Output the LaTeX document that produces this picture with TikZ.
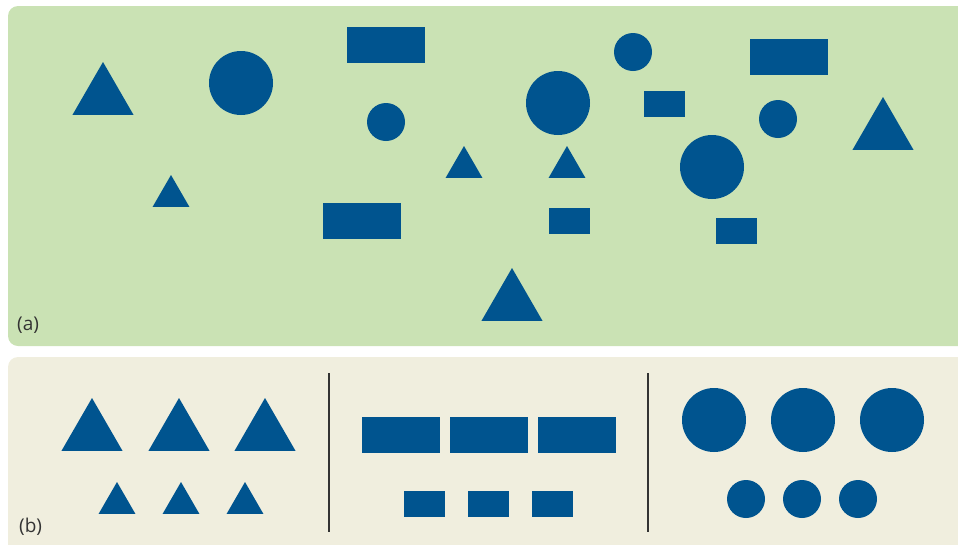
\documentclass[tikz,border=0pt]{standalone}
\usepackage{fontspec}
\setsansfont{Open Sans}
\usetikzlibrary{shapes.geometric}
\definecolor{meadow}{HTML}{CAE2B4}
\definecolor{sand}{HTML}{F0EEDE}
\definecolor{shape}{HTML}{00548F}
\definecolor{ink}{HTML}{333333}
\tikzset{
  bigtri/.style={regular polygon,regular polygon sides=3,fill=shape,inner sep=0pt,outer sep=0pt,minimum size=70.5pt,anchor=corner 1},
  smalltri/.style={regular polygon,regular polygon sides=3,fill=shape,inner sep=0pt,outer sep=0pt,minimum size=42.5pt,anchor=corner 1},
  bigdot/.style={circle,fill=shape,inner sep=0pt,minimum size=64pt},
  smalldot/.style={circle,fill=shape,inner sep=0pt,minimum size=38pt},
  bigbar/.style={rectangle,fill=shape,inner sep=0pt,minimum width=78pt,minimum height=36pt},
  smallbar/.style={rectangle,fill=shape,inner sep=0pt,minimum width=41pt,minimum height=26pt},
  tag/.style={text=ink,inner sep=0pt,anchor=west,font=\sffamily\fontsize{19}{22}\selectfont}
}
\begin{document}
\begin{tikzpicture}[x=1pt,y=-1pt]
  \useasboundingbox (0,0) rectangle (958,544);
  % panels
  \fill[meadow,rounded corners=10pt] (8,6) rectangle (980,346);
  \fill[sand,rounded corners=10pt] (8,357) rectangle (980,570);
  \node[tag] (la) at (17,325) {(a)};
  \node[tag] (lb) at (19,527) {(b)};
  % (a) mixed up
  \node[bigtri] (at1) at (103,62) {};
  \node[bigtri] (at2) at (512,268) {};
  \node[bigtri] (at3) at (883,97) {};
  \node[smalltri] (at4) at (171,175) {};
  \node[smalltri] (at5) at (464,146) {};
  \node[smalltri] (at6) at (567,146) {};
  \node[bigdot] (ac1) at (241,83) {};
  \node[bigdot] (ac2) at (558,103) {};
  \node[bigdot] (ac3) at (712,167) {};
  \node[smalldot] (ac4) at (386,122) {};
  \node[smalldot] (ac5) at (633,52) {};
  \node[smalldot] (ac6) at (778,119) {};
  \node[bigbar] (ar1) at (386,45) {};
  \node[bigbar] (ar2) at (362,221) {};
  \node[bigbar] (ar3) at (789,57) {};
  \node[smallbar] (ar4) at (569.5,221) {};
  \node[smallbar] (ar5) at (664.5,104) {};
  \node[smallbar] (ar6) at (736.5,231) {};
  % (b) sorted
  \node[bigtri] (bt1) at (92,398) {};
  \node[bigtri] (bt2) at (179,398) {};
  \node[bigtri] (bt3) at (265,398) {};
  \node[smalltri] (bt4) at (117,482) {};
  \node[smalltri] (bt5) at (181,482) {};
  \node[smalltri] (bt6) at (245,482) {};
  \draw[ink,line width=1.2pt] (329,373) -- (329,532);
  \node[bigbar] (br1) at (401,434.5) {};
  \node[bigbar] (br2) at (489,434.5) {};
  \node[bigbar] (br3) at (577,434.5) {};
  \node[smallbar] (br4) at (424.5,503.5) {};
  \node[smallbar] (br5) at (488.5,503.5) {};
  \node[smallbar] (br6) at (552.5,503.5) {};
  \draw[ink,line width=1.2pt] (648,373) -- (648,532);
  \node[bigdot] (bc1) at (714,420) {};
  \node[bigdot] (bc2) at (803,420) {};
  \node[bigdot] (bc3) at (892,420) {};
  \node[smalldot] (bc4) at (746,499) {};
  \node[smalldot] (bc5) at (802,499) {};
  \node[smalldot] (bc6) at (858,499) {};
\end{tikzpicture}
\end{document}
